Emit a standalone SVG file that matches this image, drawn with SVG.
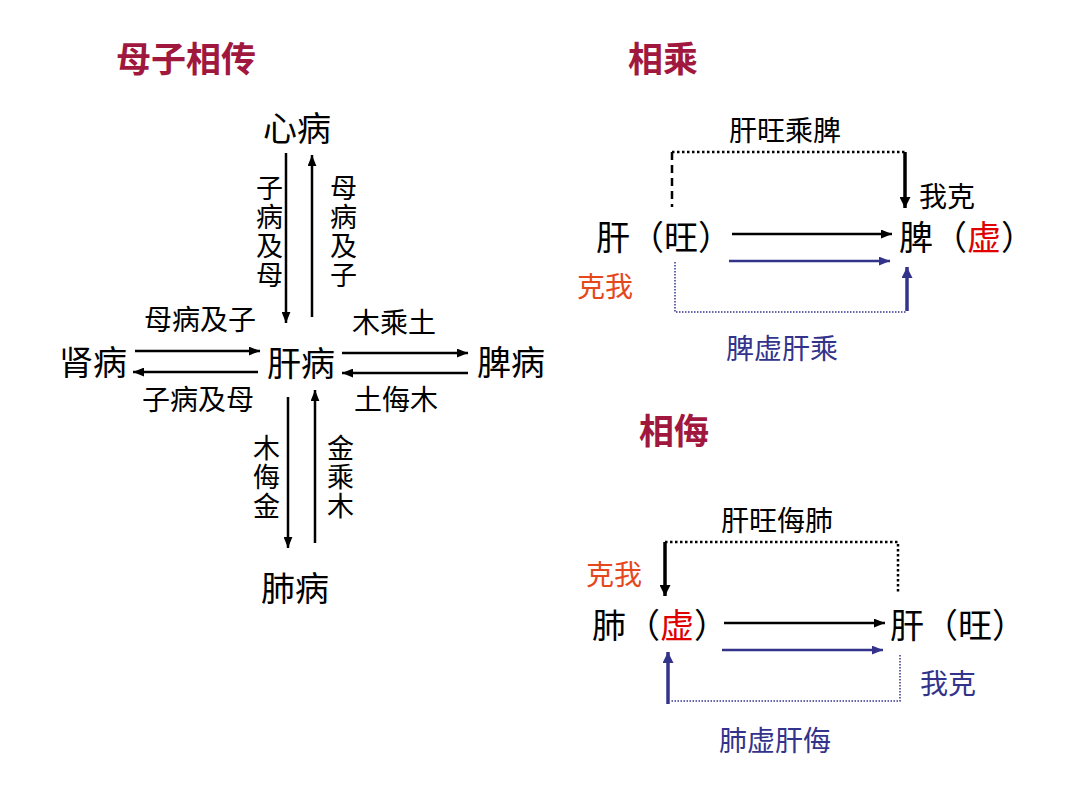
<svg xmlns="http://www.w3.org/2000/svg" width="1080" height="810" viewBox="0 0 1080 810">
<defs>
<style>
text{font-family:"Noto Sans CJK SC","Noto Sans CJK JP",sans-serif;fill:#000}
.title{font-size:35px;font-weight:bold;fill:#A0183E}
.node{font-size:34px}
.lab{font-size:28px}
.vlab{font-size:27px;writing-mode:vertical-rl;letter-spacing:2px}
.navy{fill:#33338C}
.orange{fill:#E5481C}
.red{fill:#E00000}
.ln{stroke:#000;stroke-width:2.5;fill:none}
.lnb{stroke:#33338C;stroke-width:2.5;fill:none}
.thk{stroke:#000;stroke-width:3.5;fill:none}
.thkb{stroke:#33338C;stroke-width:3.5;fill:none}
.dot{stroke:#000;stroke-width:2.5;stroke-dasharray:2.5 2.5;fill:none}
.dotb{stroke:#33338C;stroke-width:1.5;stroke-dasharray:1.5 1.5;fill:none}
.dash{stroke:#000;stroke-width:2.5;stroke-dasharray:8 5;fill:none}
</style>
<marker id="ah" viewBox="0 0 10 8" refX="10" refY="4" markerWidth="11" markerHeight="9" markerUnits="userSpaceOnUse" orient="auto"><path d="M0,0 L10,4 L0,8 z" fill="#000"/></marker>
<marker id="ahb" viewBox="0 0 10 8" refX="10" refY="4" markerWidth="11" markerHeight="9" markerUnits="userSpaceOnUse" orient="auto"><path d="M0,0 L10,4 L0,8 z" fill="#33338C"/></marker>
<marker id="ahk" viewBox="0 0 10 10" refX="10" refY="5" markerWidth="12" markerHeight="11" markerUnits="userSpaceOnUse" orient="auto"><path d="M0,0 L10,5 L0,10 z" fill="#000"/></marker>
<marker id="ahkb" viewBox="0 0 10 10" refX="10" refY="5" markerWidth="12" markerHeight="11" markerUnits="userSpaceOnUse" orient="auto"><path d="M0,0 L10,5 L0,10 z" fill="#33338C"/></marker>
</defs>
<rect width="1080" height="810" fill="#fff"/>

<g id="titles">
<text class="title" x="116" y="72">母子相传</text>
<text class="title" x="628" y="72">相乘</text>
<text class="title" x="639" y="444">相侮</text>
</g>

<g id="node-xin"><text class="node" x="263" y="141">心病</text></g>
<g id="node-shen"><text class="node" x="59" y="375">肾病</text></g>
<g id="node-gan"><text class="node" x="267" y="376">肝病</text></g>
<g id="node-pi"><text class="node" x="477" y="375">脾病</text></g>
<g id="node-fei"><text class="node" x="261" y="601">肺病</text></g>

<g id="connectors-left">
<line class="ln" x1="286" y1="153" x2="286" y2="323" marker-end="url(#ah)"/>
<line class="ln" x1="312" y1="317" x2="312" y2="155" marker-end="url(#ah)"/>
<line class="ln" x1="135" y1="351" x2="260" y2="351" marker-end="url(#ah)"/>
<line class="ln" x1="258" y1="372" x2="133" y2="372" marker-end="url(#ah)"/>
<line class="ln" x1="342" y1="353" x2="468" y2="353" marker-end="url(#ah)"/>
<line class="ln" x1="468" y1="373" x2="342" y2="373" marker-end="url(#ah)"/>
<line class="ln" x1="288" y1="397" x2="288" y2="548" marker-end="url(#ah)"/>
<line class="ln" x1="315" y1="543" x2="315" y2="390" marker-end="url(#ah)"/>
</g>

<g id="labels-left">
<text class="vlab" x="269.5" y="174">子病及母</text>
<text class="vlab" x="343.5" y="174">母病及子</text>
<text class="lab" x="144" y="330">母病及子</text>
<text class="lab" x="142" y="410">子病及母</text>
<text class="lab" x="352" y="333">木乘土</text>
<text class="lab" x="354" y="410">土侮木</text>
<text class="vlab" x="266.5" y="434">木侮金</text>
<text class="vlab" x="340.5" y="434">金乘木</text>
</g>

<g id="node-cheng-gan"><text class="node" x="596" y="250">肝（旺）</text></g>
<g id="node-cheng-pi"><text class="node" x="899" y="250">脾（<tspan class="red">虚</tspan>）</text></g>

<g id="connectors-cheng">
<polyline class="dot" points="672,152 905,152"/>
<line class="dash" x1="672" y1="152" x2="672" y2="207"/>
<line class="thk" x1="905" y1="152" x2="905" y2="208" marker-end="url(#ahk)"/>
<line class="ln" x1="732" y1="234" x2="892" y2="234" marker-end="url(#ah)"/>
<line class="lnb" x1="729" y1="261" x2="890" y2="261" marker-end="url(#ahb)"/>
<polyline class="dotb" points="675,262 675,312 907,312"/>
<line class="thkb" x1="907" y1="311" x2="907" y2="267" marker-end="url(#ahkb)"/>
</g>

<g id="labels-cheng">
<text class="lab" x="729" y="141">肝旺乘脾</text>
<text class="lab" x="919" y="207">我克</text>
<text class="lab orange" x="577" y="297">克我</text>
<text class="lab navy" x="726" y="359">脾虚肝乘</text>
</g>

<g id="node-wu-fei"><text class="node" x="592" y="638">肺（<tspan class="red">虚</tspan>）</text></g>
<g id="node-wu-gan"><text class="node" x="890" y="638">肝（旺）</text></g>

<g id="connectors-wu">
<polyline class="dot" points="665,542 898,542 898,592"/>
<line class="thk" x1="665" y1="542" x2="665" y2="596" marker-end="url(#ahk)"/>
<line class="ln" x1="724" y1="623" x2="885" y2="623" marker-end="url(#ah)"/>
<line class="lnb" x1="722" y1="650" x2="883" y2="650" marker-end="url(#ahb)"/>
<polyline class="dotb" points="900,655 900,701 670,701"/>
<line class="thkb" x1="668" y1="704" x2="668" y2="652" marker-end="url(#ahkb)"/>
</g>

<g id="labels-wu">
<text class="lab" x="721" y="531">肝旺侮肺</text>
<text class="lab orange" x="586" y="585">克我</text>
<text class="lab navy" x="920" y="694">我克</text>
<text class="lab navy" x="719" y="751">肺虚肝侮</text>
</g>
</svg>
